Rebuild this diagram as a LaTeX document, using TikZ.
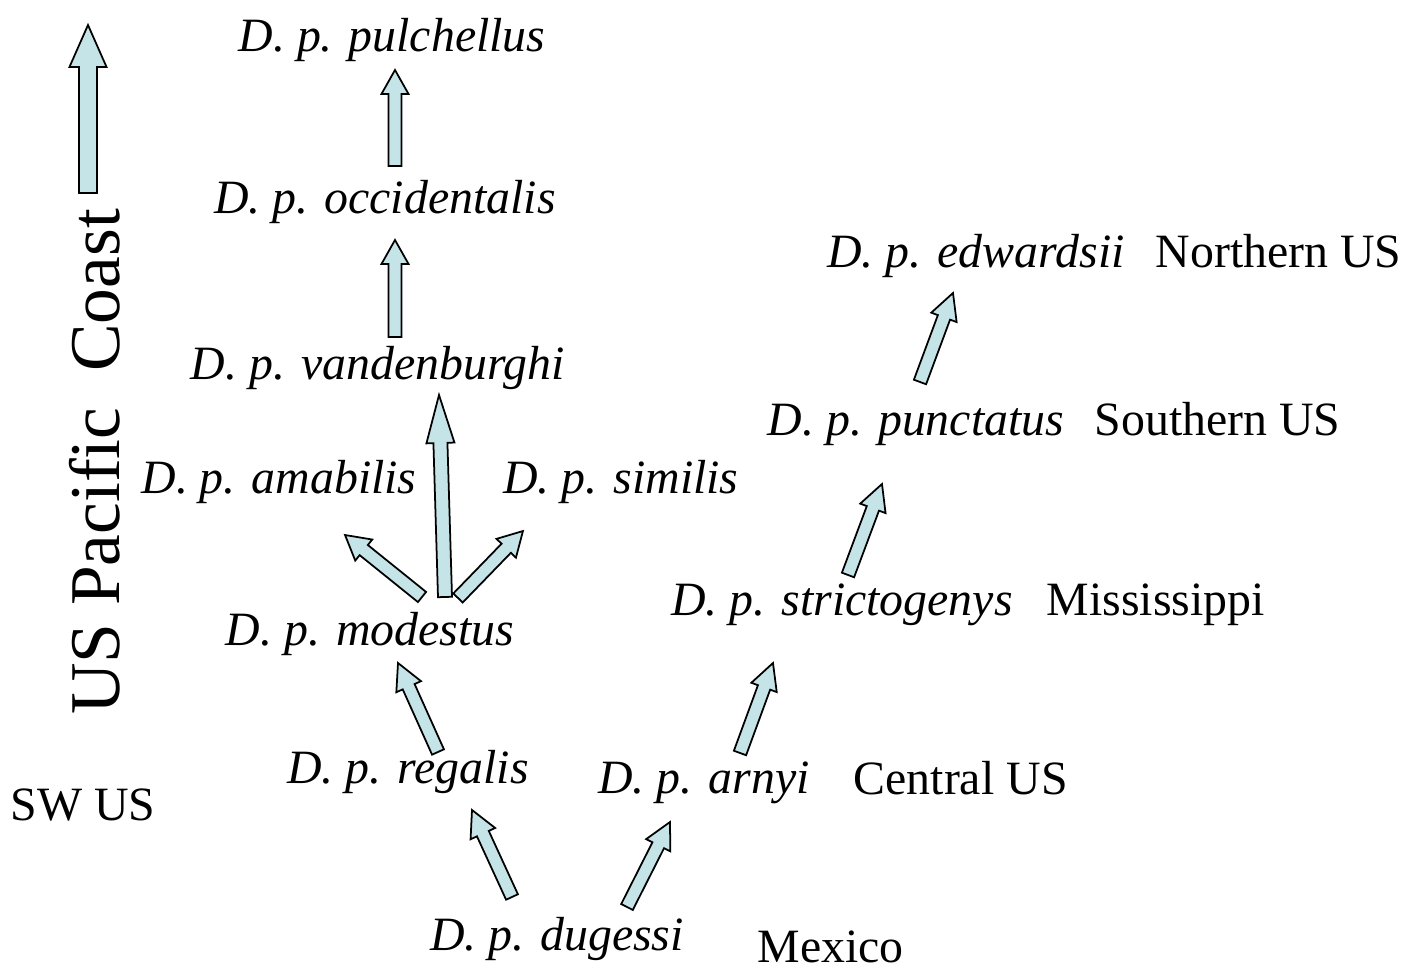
\documentclass[tikz,border=0pt]{standalone}
\usepackage{fontspec}
\setmainfont{Liberation Serif}
\usepackage{tikz}
\usetikzlibrary{calc}
\definecolor{arrowblue}{RGB}{197,228,232}

\newcommand{\blockarrow}[5]{%
  \filldraw[barr] let \p1=#1, \p2=#2,
      \n1={atan2(\y2-\y1,\x2-\x1)}, \n2={veclen(\x2-\x1,\y2-\y1)} in
    [shift={(\p1)}, rotate=\n1]
    (0pt,-#3*0.005cm) -- (\n2-#5*0.01cm,-#3*0.005cm) -- (\n2-#5*0.01cm,-#4*0.005cm)
    -- (\n2,0pt) -- (\n2-#5*0.01cm,#4*0.005cm) -- (\n2-#5*0.01cm,#3*0.005cm)
    -- (0pt,#3*0.005cm) -- cycle;}

\begin{document}
\begin{tikzpicture}[x=0.01cm, y=-0.01cm,
  sp/.style={font=\fontsize{13.6}{16}\selectfont\itshape, inner sep=0pt, anchor=base},
  region/.style={font=\fontsize{13.6}{16}\selectfont, inner sep=0pt, anchor=base west},
  barr/.style={fill=arrowblue, draw=black, line width=0.5pt, line join=miter}
]
\useasboundingbox (0,0) rectangle (1406,968);

\node[sp] (pulchellus) at (392,52) {D. p. pulchellus};
\node[sp] (occidentalis) at (385,214) {D. p. occidentalis};
\node[sp] (vandenburghi) at (378,380) {D. p. vandenburghi};
\node[sp] (amabilis) at (279,494) {D. p. amabilis};
\node[sp] (similis) at (621,494) {D. p. similis};
\node[sp] (modestus) at (370,646) {D. p. modestus};
\node[sp] (regalis) at (408,784) {D. p. regalis};
\node[sp] (dugessi) at (557,951) {D. p. dugessi};
\node[sp] (arnyi) at (704,794) {D. p. arnyi};
\node[sp] (strictogenys) at (842,616) {D. p. strictogenys};
\node[sp] (punctatus) at (916,436) {D. p. punctatus};
\node[sp] (edwardsii) at (976,268) {D. p. edwardsii};

\node[region] (northern) at (1155,268) {Northern US};
\node[region] (southern) at (1094,436) {Southern US};
\node[region] (mississippi) at (1046,616) {Mississippi};
\node[region] (central) at (853,795) {Central US};
\node[region] (mexico) at (757,963) {Mexico};
\node[region] (swus) at (10,821) {SW US};

\node[font=\fontsize{20.3}{24}\selectfont, rotate=90, inner sep=0pt] (coast) at (95,462)
  {US Pacific\ \ Coast};

\coordinate (coastfoot) at (88,193);
\coordinate (coasttip) at (88,25);
\blockarrow{(coastfoot)}{(coasttip)}{18}{37}{42}

\blockarrow{($(occidentalis.base)+(10,-48)$)}{($(pulchellus.base)+(3,18)$)}{13}{27}{24}
\blockarrow{($(vandenburghi.base)+(17,-43)$)}{($(occidentalis.base)+(10,26)$)}{13}{27}{24}
\blockarrow{($(modestus.base)+(75,-49)$)}{($(vandenburghi.base)+(61,15)$)}{14}{28}{48}
\blockarrow{($(modestus.base)+(52,-49)$)}{($(amabilis.base)+(66,41)$)}{13}{27}{24}
\blockarrow{($(modestus.base)+(88,-48)$)}{($(similis.base)+(-98,37)$)}{13}{27}{24}
\blockarrow{($(regalis.base)+(30,-32)$)}{($(modestus.base)+(28,17)$)}{13}{27}{26}
\blockarrow{($(dugessi.base)+(-45,-54)$)}{($(regalis.base)+(64,26)$)}{13}{27}{26}
\blockarrow{($(dugessi.base)+(70,-44)$)}{($(arnyi.base)+(-34,28)$)}{13}{27}{26}
\blockarrow{($(arnyi.base)+(36,-41)$)}{($(strictogenys.base)+(-69,47)$)}{13}{27}{26}
\blockarrow{($(strictogenys.base)+(6,-41)$)}{($(punctatus.base)+(-34,48)$)}{13}{27}{26}
\blockarrow{($(punctatus.base)+(4,-54)$)}{($(edwardsii.base)+(-23,25)$)}{13}{27}{26}
\end{tikzpicture}
\end{document}
